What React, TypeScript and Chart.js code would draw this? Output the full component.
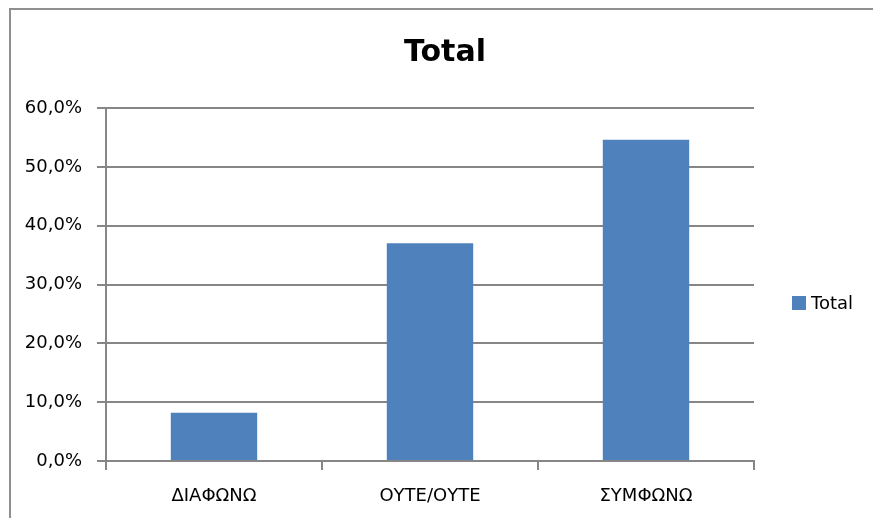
import { useEffect, useRef } from "react";
import { Chart, registerables } from "chart.js";

Chart.register(...registerables);

const chartTitle = "Total";
const seriesName = "Total";
const categories = ["ΔΙΑΦΩΝΩ", "ΟΥΤΕ/ΟΥΤΕ", "ΣΥΜΦΩΝΩ"];
const totalValues = [8.2, 37.0, 54.6];
const yMin = 0;
const yMax = 60;
const yStep = 10;

const FONT = "'DejaVu Sans', sans-serif";
const GRID = "#868686";
const BAR = "#4F81BD";

const W = 873;
const H = 518;

const decorPlugin = {
  id: "decor",
  beforeDraw(chart: any) {
    const ctx = chart.ctx;
    ctx.save();
    ctx.fillStyle = "#ffffff";
    ctx.fillRect(0, 0, W, H);
    ctx.strokeStyle = "#8f8f8f";
    ctx.lineWidth = 2;
    ctx.strokeRect(10, 9, 880, 530);
    ctx.restore();
  },
  afterDraw(chart: any) {
    const ctx = chart.ctx;
    const area = chart.chartArea;
    ctx.save();
    // title
    ctx.fillStyle = "#000000";
    ctx.font = `bold 30px ${FONT}`;
    ctx.textAlign = "center";
    ctx.textBaseline = "alphabetic";
    ctx.fillText(chartTitle, (area.left + area.right) / 2 + 15, 61);
    // legend
    const lx = area.right + 38;
    const ly = 296;
    ctx.fillStyle = BAR;
    ctx.fillRect(lx, ly, 14, 14);
    ctx.fillStyle = "#000000";
    ctx.font = `18px ${FONT}`;
    ctx.textAlign = "left";
    ctx.fillText(seriesName, lx + 19, ly + 13);
    ctx.restore();
  },
};

export default function App() {
  const ref = useRef<HTMLCanvasElement | null>(null);

  useEffect(() => {
    if (!ref.current) return;
    const chart = new Chart(ref.current, {
      type: "bar",
      data: {
        labels: categories,
        datasets: [
          {
            label: seriesName,
            data: totalValues,
            backgroundColor: BAR,
            borderWidth: 0,
            categoryPercentage: 1,
            barPercentage: 0.4,
          },
        ],
      },
      options: {
        responsive: false,
        animation: false,
        devicePixelRatio: 1,
        layout: { padding: { top: 108, right: 119, left: 0, bottom: 0 } },
        plugins: {
          legend: { display: false },
          title: { display: false },
          tooltip: { enabled: false },
        },
        scales: {
          x: {
            offset: true,
            grid: {
              drawOnChartArea: false,
              drawTicks: true,
              tickLength: 9,
              color: GRID,
              lineWidth: 2,
              offset: true,
            },
            border: { display: true, color: GRID, width: 2 },
            ticks: {
              color: "#000000",
              font: { family: FONT, size: 18 },
              padding: 16,
              maxRotation: 0,
            },
            afterFit(axis: any) {
              axis.height = 57;
            },
          },
          y: {
            min: yMin,
            max: yMax,
            grid: {
              color: GRID,
              lineWidth: 2,
              tickLength: 9,
            },
            border: { display: true, color: GRID, width: 2 },
            ticks: {
              stepSize: yStep,
              color: "#000000",
              font: { family: FONT, size: 18 },
              padding: 15,
              callback: (v: any) => Number(v).toFixed(1).replace(".", ",") + "%",
            },
            afterFit(axis: any) {
              axis.width = 106;
            },
          },
        },
      },
      plugins: [decorPlugin],
    });
    return () => chart.destroy();
  }, []);

  return (
    <div style={{ position: "fixed", left: 0, top: 0, width: W, height: H, background: "#fff" }}>
      <canvas ref={ref} width={W} height={H} style={{ display: "block", width: W, height: H }} />
    </div>
  );
}
